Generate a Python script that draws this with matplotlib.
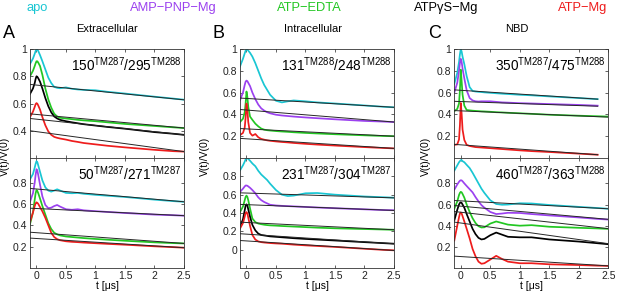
import numpy as np
import matplotlib.pyplot as plt

plt.rcParams['font.family'] = ['Liberation Sans', 'DejaVu Sans']
plt.rcParams['mathtext.fontset'] = 'custom'
plt.rcParams['mathtext.rm'] = 'Liberation Sans'

# time grid (us) the traces were read on
t_us = [-0.11, -0.06, -0.03, -0.015, 0, 0.015, 0.03, 0.06, 0.1, 0.15, 0.2, 0.25, 0.3,
        0.35, 0.4, 0.5, 0.6, 0.7, 0.8, 1.0, 1.2, 1.5, 2.0, 2.32, 2.5]
nan = np.nan

conditions = ['apo', 'AMP\u2212PNP\u2212Mg', 'ATP\u2212EDTA', 'ATP\u03b3S\u2212Mg', 'ATP\u2212Mg']
colors = ['#19c6d3', '#9b41ef', '#22c722', 'black', '#ee1c1c']

# ---- A: extracellular ----
a_top_apo = [0.89, 0.93, 0.965, 0.985, 1.0, 0.995, 0.985, 0.955, 0.91, 0.85, 0.79, 0.75, 0.722,
             0.715, 0.712, 0.718, 0.708, 0.703, 0.70, 0.697, 0.686, 0.673, 0.65, 0.636, 0.628]
a_top_edta = [0.80, 0.84, 0.875, 0.895, 0.91, 0.91, 0.90, 0.875, 0.81, 0.71, 0.63, 0.57, 0.525,
              0.505, 0.495, 0.49, 0.485, 0.48, 0.476, 0.47, 0.462, 0.45, 0.435, 0.425, 0.42]
a_top_gs = [0.67, 0.71, 0.75, 0.78, 0.80, 0.795, 0.785, 0.76, 0.71, 0.64, 0.58, 0.535, 0.505,
            0.49, 0.48, 0.47, 0.462, 0.455, 0.448, 0.438, 0.428, 0.415, 0.39, 0.378, 0.37]
a_top_mg = [0.50, 0.54, 0.575, 0.595, 0.603, 0.598, 0.585, 0.555, 0.50, 0.44, 0.395, 0.37, 0.355,
            0.348, 0.343, 0.335, 0.325, 0.318, 0.31, 0.30, 0.29, 0.278, 0.26, 0.25, 0.247]
a_top_bg = [[0.74, 0.627], [0.524, 0.42], [0.49, 0.37], [0.40, 0.247]]

a_bot_apo = [0.83, 0.88, 0.94, 0.975, 1.0, 0.99, 0.96, 0.90, 0.82, 0.755, 0.725, 0.715, 0.725,
             0.737, 0.725, 0.703, 0.70, 0.703, 0.695, 0.685, 0.677, 0.665, 0.64, 0.626, 0.62]
a_bot_pnp = [0.62, 0.70, 0.80, 0.87, 0.925, 0.91, 0.87, 0.78, 0.67, 0.59, 0.56, 0.565, 0.58,
             0.59, 0.575, 0.55, 0.545, 0.55, 0.54, 0.532, 0.525, 0.515, 0.50, 0.494, 0.49]
a_bot_edta = [0.41, 0.52, 0.64, 0.70, 0.73, 0.72, 0.70, 0.65, 0.58, 0.50, 0.42, 0.365, 0.33,
              0.315, 0.305, 0.295, 0.29, 0.285, 0.28, 0.272, 0.265, 0.255, 0.24, 0.233, 0.23]
a_bot_mg = [0.43, 0.52, 0.58, 0.605, 0.615, 0.61, 0.60, 0.57, 0.53, 0.47, 0.40, 0.33, 0.29,
            0.27, 0.26, 0.25, 0.245, 0.242, 0.238, 0.232, 0.226, 0.218, 0.203, 0.195, 0.19]
a_bot_bg = [[0.745, 0.62], [0.56, 0.49], [0.335, 0.23], [0.28, 0.19]]

# ---- B: intracellular ----
b_top_apo = [0.84, 0.91, 0.96, 0.985, 1.0, 0.995, 0.985, 0.965, 0.93, 0.87, 0.80, 0.73, 0.67,
             0.625, 0.58, 0.525, 0.51, 0.52, 0.528, 0.52, 0.51, 0.50, 0.482, 0.47, 0.465]
b_top_pnp = [0.53, 0.60, 0.67, 0.70, 0.71, 0.705, 0.69, 0.66, 0.60, 0.54, 0.49, 0.455, 0.435,
             0.42, 0.41, 0.397, 0.39, 0.385, 0.38, 0.372, 0.365, 0.355, 0.34, 0.334, 0.33]
b_top_edta = [0.33, 0.36, 0.42, 0.50, 0.61, 0.56, 0.47, 0.38, 0.35, 0.315, 0.29, 0.27, 0.26,
              0.255, 0.252, 0.247, 0.243, 0.24, 0.236, 0.23, 0.225, 0.218, 0.208, 0.202, 0.20]
b_top_mg = [0.21, 0.23, 0.28, 0.37, 0.50, 0.44, 0.33, 0.23, 0.205, 0.22, 0.19, 0.175, 0.168,
            0.162, 0.158, 0.152, 0.147, 0.143, 0.138, 0.13, 0.123, 0.114, 0.10, 0.092, 0.088]
b_top_bg = [[0.55, 0.465], [0.445, 0.33], [0.27, 0.20], [0.18, 0.088]]

b_bot_apo = [0.865, 0.92, 0.96, 0.985, 1.0, 0.995, 0.99, 0.97, 0.94, 0.91, 0.86, 0.82, 0.79,
             0.76, 0.72, 0.65, 0.60, 0.585, 0.59, 0.615, 0.618, 0.60, 0.58, 0.572, 0.567]
b_bot_pnp = [0.63, 0.665, 0.69, 0.70, 0.70, 0.697, 0.69, 0.675, 0.65, 0.615, 0.57, 0.54, 0.52,
             0.505, 0.49, 0.482, 0.478, 0.475, 0.472, 0.466, 0.46, 0.452, 0.44, 0.432, 0.43]
b_bot_edta = [0.41, 0.47, 0.54, 0.575, 0.59, 0.575, 0.54, 0.45, 0.34, 0.30, 0.285, 0.278, 0.272,
              0.268, 0.265, 0.262, 0.258, 0.255, 0.252, 0.246, 0.24, 0.233, 0.225, 0.22, 0.217]
b_bot_gs = [0.255, 0.33, 0.43, 0.48, 0.495, 0.48, 0.44, 0.36, 0.27, 0.21, 0.175, 0.16, 0.155,
            0.15, 0.145, 0.14, 0.135, 0.13, 0.125, 0.117, 0.11, 0.10, 0.082, 0.071, 0.065]
b_bot_mg = [0.23, 0.29, 0.36, 0.40, 0.41, 0.395, 0.35, 0.26, 0.16, 0.11, 0.09, 0.082, 0.078,
            0.075, 0.072, 0.068, 0.065, 0.06, 0.055, 0.047, 0.04, 0.03, 0.01, -0.002, -0.007]
b_bot_bg = [[0.62, 0.565], [0.494, 0.428], [0.30, 0.217], [0.174, 0.064], [0.10, -0.009]]

# ---- C: NBD ----
c_top_apo = [0.68, 0.78, 0.88, 0.95, 1.0, 0.975, 0.93, 0.86, 0.75, 0.65, 0.615, 0.61, 0.607,
             0.605, 0.602, 0.598, 0.594, 0.59, 0.587, 0.58, 0.575, 0.565, 0.55, 0.54, nan]
c_top_pnp = [0.60, 0.69, 0.80, 0.87, 0.91, 0.88, 0.82, 0.73, 0.62, 0.55, 0.528, 0.52, 0.518,
             0.52, 0.52, 0.52, 0.515, 0.51, 0.508, 0.503, 0.50, 0.495, 0.487, 0.48, nan]
c_top_edta = [0.43, 0.45, 0.50, 0.62, 0.81, 0.70, 0.58, 0.48, 0.44, 0.437, 0.434, 0.432, 0.43,
              0.428, 0.427, 0.424, 0.42, 0.418, 0.415, 0.41, 0.405, 0.397, 0.388, 0.383, 0.38]
c_top_mg = [0.12, 0.125, 0.17, 0.30, 0.505, 0.40, 0.26, 0.165, 0.12, 0.11, 0.105, 0.10, 0.098,
            0.096, 0.094, 0.09, 0.086, 0.082, 0.078, 0.07, 0.063, 0.055, 0.04, 0.03, nan]
c_top_bg = [[0.625, 0.54], [0.52, 0.475], [0.435, 0.375], [0.125, 0.03]]

c_bot_apo = [0.92, 0.97, 1.0, 1.01, 1.02, 1.02, 1.01, 1.0, 0.975, 0.945, 0.90, 0.85, 0.80,
             0.75, 0.71, 0.64, 0.605, 0.598, 0.60, 0.612, 0.61, 0.596, 0.578, 0.567, 0.56]
c_bot_pnp = [0.74, 0.79, 0.815, 0.825, 0.83, 0.828, 0.82, 0.80, 0.775, 0.745, 0.715, 0.67, 0.63,
             0.595, 0.57, 0.53, 0.51, 0.515, 0.522, 0.52, 0.51, 0.497, 0.478, 0.464, 0.458]
c_bot_edta = [0.56, 0.63, 0.69, 0.71, 0.72, 0.715, 0.70, 0.665, 0.60, 0.53, 0.47, 0.425, 0.395,
              0.383, 0.385, 0.42, 0.44, 0.425, 0.41, 0.40, 0.405, 0.39, 0.38, 0.374, 0.37]
c_bot_gs = [0.45, 0.55, 0.60, 0.615, 0.62, 0.615, 0.60, 0.57, 0.51, 0.44, 0.37, 0.32, 0.285,
            0.27, 0.275, 0.31, 0.335, 0.315, 0.295, 0.29, 0.29, 0.27, 0.25, 0.234, 0.225]
c_bot_mg = [0.26, 0.40, 0.48, 0.515, 0.525, 0.515, 0.49, 0.44, 0.37, 0.28, 0.18, 0.11, 0.06,
            0.04, 0.045, 0.08, 0.115, 0.085, 0.06, 0.045, 0.045, 0.035, 0.028, 0.022, 0.02]
c_bot_bg = [[0.638, 0.56], [0.59, 0.46], [0.534, 0.372], [0.434, 0.23], [0.112, 0.02]]

pair_labels = [r'$\mathregular{150^{TM287}/295^{TM288}}$', r'$\mathregular{50^{TM287}/271^{TM287}}$',
               r'$\mathregular{131^{TM288}/248^{TM288}}$', r'$\mathregular{231^{TM287}/304^{TM287}}$',
               r'$\mathregular{350^{TM287}/475^{TM288}}$', r'$\mathregular{460^{TM287}/363^{TM288}}$']


def draw(ax, traces, cidx, bgs, label):
    t = np.array(t_us)
    for y, ci, bg in zip(traces, cidx, bgs):
        y = np.array(y, dtype=float)
        ax.plot(t, y, color=colors[ci], lw=1.25, zorder=2)
        t_end = t[~np.isnan(y)][-1]
        # straight background fit drawn over the trace
        ax.plot([t[0], t_end], bg, color='#262626', lw=0.7, zorder=3)
    ax.text(0.985, 0.945, label, transform=ax.transAxes, ha='right', va='top', fontsize=9.8)
    ax.set_xlim(-0.11, 2.5)
    ax.set_xticks([0, 0.5, 1, 1.5, 2, 2.5])
    ax.tick_params(direction='in', length=2.5, width=0.5, top=True, right=True,
                   labelsize=7.5, pad=2, colors='#222222')
    for s in ax.spines.values():
        s.set_linewidth(0.6)
        s.set_color('#333333')


fig = plt.figure(figsize=(6.17, 2.91), dpi=100)
lefts = [30 / 617, 240 / 617, 454.3 / 617]
w = 154 / 617
top_y, top_h = 1 - 158 / 291, 109 / 291
bot_y, bot_h = 1 - 268 / 291, 110 / 291

axes = []
for lf in lefts:
    at = fig.add_axes([lf, top_y, w, top_h])
    ab = fig.add_axes([lf, bot_y, w, bot_h])
    axes.append((at, ab))

# A
at, ab = axes[0]
draw(at, [a_top_apo, a_top_edta, a_top_gs, a_top_mg], [0, 2, 3, 4], a_top_bg, pair_labels[0])
draw(ab, [a_bot_apo, a_bot_pnp, a_bot_edta, a_bot_mg], [0, 1, 2, 4], a_bot_bg, pair_labels[1])
at.set_ylim(0.2, 1.0)
at.set_yticks([0.4, 0.6, 0.8, 1.0], ['0.4', '0.6', '0.8', '1'])
ab.set_ylim(0, 1.03)
ab.set_yticks([0.2, 0.4, 0.6, 0.8], ['0.2', '0.4', '0.6', '0.8'])

# B
at, ab = axes[1]
draw(at, [b_top_apo, b_top_pnp, b_top_edta, b_top_mg], [0, 1, 2, 4], b_top_bg, pair_labels[2])
draw(ab, [b_bot_apo, b_bot_pnp, b_bot_edta, b_bot_gs, b_bot_mg], [0, 1, 2, 3, 4], b_bot_bg, pair_labels[3])
at.set_ylim(0, 1.0)
at.set_yticks([0.2, 0.4, 0.6, 0.8, 1.0], ['0.2', '0.4', '0.6', '0.8', '1'])
ab.set_ylim(-0.2, 1.0)
ab.set_yticks([0, 0.2, 0.4, 0.6, 0.8], ['0', '0.2', '0.4', '0.6', '0.8'])

# C
at, ab = axes[2]
draw(at, [c_top_apo, c_top_pnp, c_top_edta, c_top_mg], [0, 1, 2, 4], c_top_bg, pair_labels[4])
draw(ab, [c_bot_apo, c_bot_pnp, c_bot_edta, c_bot_gs, c_bot_mg], [0, 1, 2, 3, 4], c_bot_bg, pair_labels[5])
at.set_ylim(0, 1.0)
at.set_yticks([0.2, 0.4, 0.6, 0.8, 1.0], ['0.2', '0.4', '0.6', '0.8', '1'])
ab.set_ylim(0, 1.04)
ab.set_yticks([0.2, 0.4, 0.6, 0.8], ['0.2', '0.4', '0.6', '0.8'])

for at, ab in axes:
    at.tick_params(labelbottom=False)
    ab.set_xticklabels(['0', '0.5', '1', '1.5', '2', '2.5'])
    ab.set_xlabel('t [\u03bcs]', fontsize=7.5, labelpad=0.5)

# condition legend across the top
for name, c, x in zip(conditions, colors, [37, 173, 309, 446, 583]):
    fig.text(x / 617, 1 - 8 / 291, name, color=c, fontsize=9.3, ha='center', va='center')

for letter, x in zip(['A', 'B', 'C'], [9, 219, 435]):
    fig.text(x / 617, 1 - 34 / 291, letter, fontsize=13, ha='center', va='center')
for title, x in zip(['Extracellular', 'Intracellular', 'NBD'], [107, 313, 517]):
    fig.text(x / 617, 1 - 29 / 291, title, fontsize=8, ha='center', va='center')
for x in [5, 205, 426]:
    fig.text(x / 617, 1 - 156 / 291, 'V(t)/V(0)', rotation=90, fontsize=7.5, ha='center', va='center')

plt.savefig('out.png', dpi=100)
